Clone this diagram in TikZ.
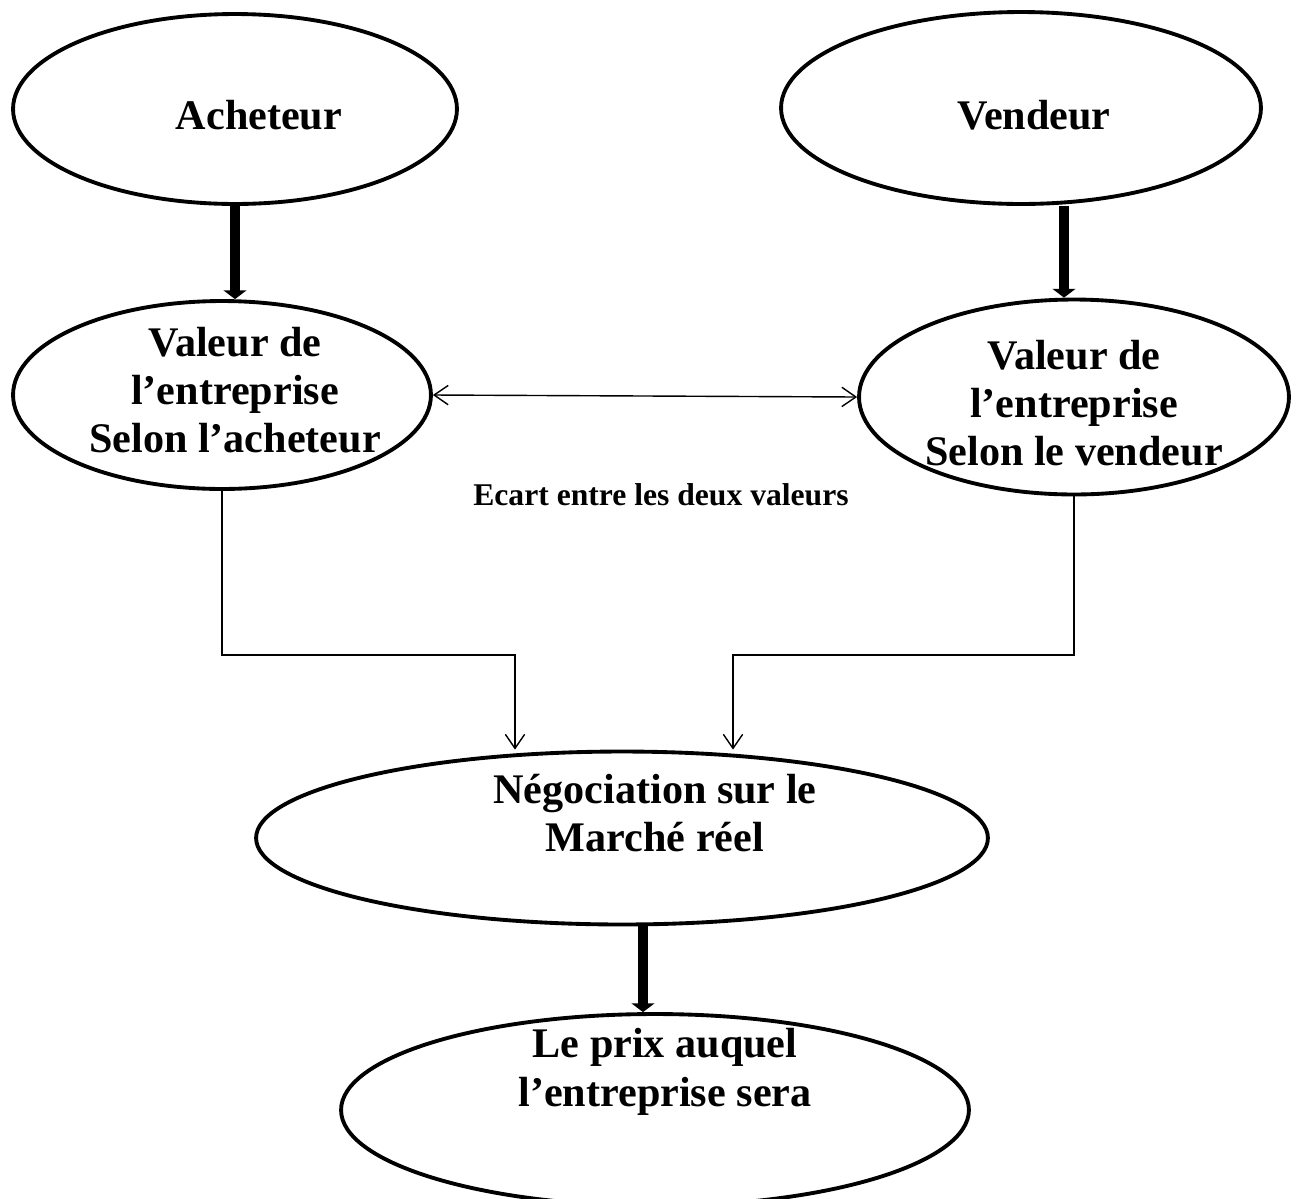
\documentclass[tikz,border=0pt]{standalone}
\usepackage{fontspec}
\setmainfont{Liberation Serif}
\usepackage{tikz}
\usetikzlibrary{shapes.geometric, arrows.meta}
\usetikzlibrary{calc,positioning}

\tikzset{
    bulle/.style={draw, ellipse, line width=2.2pt, inner sep=0pt},
    texte/.style={font=\fontsize{24}{27.5}\selectfont\bfseries, align=center},
    grosse/.style={line width=5.8pt, -{Triangle[width=13pt,length=5pt]}},
    fine/.style={line width=0.8pt, -{Straight Barb[length=8pt,width=11pt]}},
}

\begin{document}
\begin{tikzpicture}[x=0.02cm, y=-0.02cm]

    \useasboundingbox (0,0) rectangle (1296,1198);

    % Ellipses
    \node[bulle, minimum width=8.88cm, minimum height=3.80cm] (ach) at (235,109) {};
    \node[bulle, minimum width=9.60cm, minimum height=3.84cm] (vend) at (1021,108) {};
    \node[bulle, minimum width=8.36cm, minimum height=3.76cm] (valA) at (222,395) {};
    \node[bulle, minimum width=8.60cm, minimum height=3.90cm] (valV) at (1074,397) {};
    \node[bulle, minimum width=14.64cm, minimum height=3.46cm] (nego) at (622,838) {};
    \node[bulle, minimum width=12.56cm, minimum height=3.84cm] (prix) at (655,1110) {};

    % Textes
    \node[texte] (tAch) at (259,115) {Acheteur};
    \node[texte] (tVend) at (1034,115) {Vendeur};
    \node[texte] (tValA) at (235,390) {Valeur de\\l’entreprise\\Selon l’acheteur};
    \node[texte] (tValV) at (1074,403) {Valeur de\\l’entreprise\\Selon le vendeur};
    \node[texte] (tNego) at (655,813) {Négociation sur le\\Marché réel};
    \node[texte] (tPrix) at (665,1072) {Le prix auquel\\l’entreprise sera};
    \node[font=\fontsize{18}{21}\selectfont\bfseries] (ecart) at (661,495)
        {Ecart entre les deux valeurs};

    % Fleches epaisses
    \coordinate (hautV) at (1064,0);
    \coordinate (milieu) at (643,0);
    \draw[grosse] (ach.south) -- (ach.south |- valA.north);
    \draw[grosse] (hautV |- vend.south) -- (hautV |- valV.north);
    \draw[grosse] (milieu |- nego.south) -- (milieu |- prix.north);

    % Ecart
    \draw[line width=0.8pt, {Straight Barb[length=8pt,width=11pt]}-{Straight Barb[length=8pt,width=11pt]}]
        (valA.east) -- (valV.west);

    % Vers la negociation
    \coordinate (coinG) at (515,655);
    \coordinate (coinD) at (733,655);
    \draw[fine] (valA.south) |- (coinG) -- (coinG |- nego.north);
    \draw[fine] (valV.south) |- (coinD) -- (coinD |- nego.north);

\end{tikzpicture}
\end{document}
